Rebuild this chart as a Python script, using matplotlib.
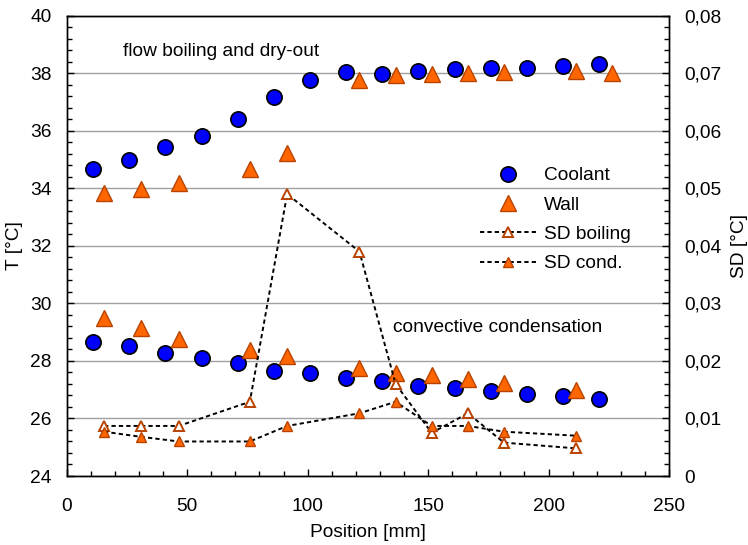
import numpy as np
import matplotlib
matplotlib.use("Agg")
import matplotlib.pyplot as plt
from matplotlib.ticker import MultipleLocator, FuncFormatter

plt.rcParams['font.family'] = ['Liberation Sans', 'DejaVu Sans']
plt.rcParams['font.size'] = 13.8

# coolant temperatures (circles)
x_cool = [11, 26, 41, 56, 71, 86, 101, 116, 131, 146, 161, 176, 191, 206, 221]
t_cool_boil = [34.67, 34.98, 35.44, 35.82, 36.41, 37.17, 37.77, 38.04, 37.97, 38.08,
               38.15, 38.18, 38.18, 38.25, 38.32]
t_cool_cond = [28.67, 28.52, 28.27, 28.09, 27.94, 27.65, 27.58, 27.41, 27.30, 27.13,
               27.06, 26.96, 26.85, 26.78, 26.68]

# wall temperatures (triangles)
x_wall = [15.5, 31, 46.5, 76, 91.5, 121.5, 136.5, 151.5, 166.5, 181.5, 211.5, 226.5]
t_wall_boil = [33.84, 33.99, 34.20, 34.67, 35.22, 37.75, 37.94, 37.99, 38.0, 38.04,
               38.08, 38.0]
t_wall_cond = [29.48, 29.13, 28.76, 28.38, 28.17, 27.77, 27.59, 27.51, 27.36, 27.24,
               26.99]

# standard deviations (right axis)
sd_boil = [0.0087, 0.0087, 0.0087, 0.0129, 0.0490, 0.0390, 0.0160, 0.0075, 0.0109,
           0.0058, 0.0048]
sd_cond = [0.0077, 0.0068, 0.0060, 0.0060, 0.0087, 0.0109, 0.0129, 0.0087, 0.0087,
           0.0077, 0.0070]

blue = '#0000FF'
orange = '#FF6600'
dark_orange = '#B84300'

fig = plt.figure(figsize=(7.48, 5.45), dpi=100)
ax = fig.add_axes([0.0892, 0.1266, 0.8052, 0.8446])
ax2 = ax.twinx()

ax.plot(x_cool, t_cool_boil, 'o', ms=11, mfc=blue, mec='black', mew=1.2, label='Coolant', zorder=3)
ax.plot(x_wall, t_wall_boil, '^', ms=12, mfc=orange, mec=dark_orange, mew=1.0, label='Wall', zorder=3)
ax.plot(x_cool, t_cool_cond, 'o', ms=11, mfc=blue, mec='black', mew=1.2, zorder=3)
ax.plot(x_wall[:len(t_wall_cond)], t_wall_cond, '^', ms=12, mfc=orange, mec=dark_orange, mew=1.0, zorder=3)

dash = (0, (2.2, 1.6))
n = len(sd_boil)
l3, = ax2.plot(x_wall[:n], sd_boil, color='black', ls=dash, lw=1.4, marker='^', ms=7,
               mfc='white', mec=dark_orange, mew=1.4, label='SD boiling')
l4, = ax2.plot(x_wall[:n], sd_cond, color='black', ls=dash, lw=1.4, marker='^', ms=7,
               mfc=orange, mec=dark_orange, mew=1.0, label='SD cond.')

ax.set_xlim(0, 250)
ax.set_ylim(24, 40)
ax2.set_ylim(0, 0.08)

ax.xaxis.set_major_locator(MultipleLocator(50))
ax.xaxis.set_minor_locator(MultipleLocator(10))
ax.yaxis.set_major_locator(MultipleLocator(2))
ax.yaxis.set_minor_locator(MultipleLocator(0.4))
ax2.yaxis.set_major_locator(MultipleLocator(0.01))
ax2.yaxis.set_minor_locator(MultipleLocator(0.002))
ax2.yaxis.set_major_formatter(FuncFormatter(lambda v, p: '0' if abs(v) < 1e-9 else ('%.2f' % v).replace('.', ',')))

ax.tick_params(axis='x', which='both', direction='in', pad=15.5)
ax.tick_params(axis='y', which='both', direction='in', pad=11)
ax2.tick_params(axis='y', which='both', direction='in', pad=11)
for a in (ax, ax2):
    a.tick_params(which='major', length=5, width=1)
    a.tick_params(which='minor', length=3.5, width=1)
    for s in a.spines.values():
        s.set_linewidth(1.0)

ax.grid(axis='y', which='major', color='#a0a0a0', lw=1.0)
ax.set_axisbelow(True)

ax.set_xlabel('Position [mm]', labelpad=6.5)
ax.set_ylabel('T [°C]', labelpad=5)
ax2.set_ylabel('SD [°C]', labelpad=7)

ax.text(23.4, 38.75, 'flow boiling and dry-out', ha='left', va='center')
ax.text(135.5, 29.15, 'convective condensation', ha='left', va='center')

h1, lab1 = ax.get_legend_handles_labels()
leg = ax2.legend(h1 + [l3, l4], lab1 + ['SD boiling', 'SD cond.'],
                 loc='upper left', bbox_to_anchor=(480 / 748, 1 - 167 / 545),
                 bbox_transform=fig.transFigure, frameon=False, numpoints=1,
                 handlelength=2.9, handletextpad=0.45, labelspacing=0.62,
                 borderpad=0, borderaxespad=0)

fig.savefig('out.png', dpi=100)
